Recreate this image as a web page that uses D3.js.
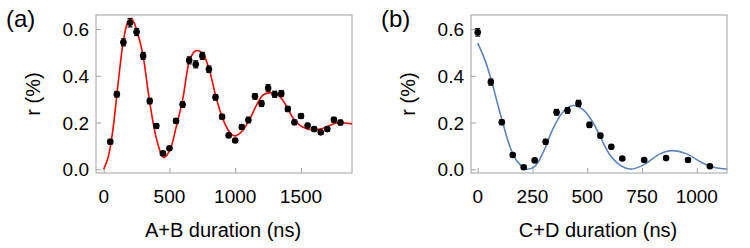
<!DOCTYPE html>
<html>
<head>
<meta charset="utf-8">
<script src="https://cdn.jsdelivr.net/npm/d3@7"></script>
<style>
  body { margin: 0; background: #fff; }
  text { font-family: "Liberation Sans", Arial, sans-serif; fill: #000; }
</style>
</head>
<body>
<div id="chart"></div>
<script>
// panel (a) data
var aTimes = [50, 100, 150, 200, 250, 300, 350, 400, 450, 500, 550, 600, 650, 700, 750, 800, 850, 900,
  950, 1000, 1050, 1100, 1150, 1200, 1250, 1300, 1350, 1400, 1450, 1500, 1550, 1600, 1650, 1700, 1750, 1800];
var aValues = [0.118, 0.321, 0.543, 0.627, 0.587, 0.485, 0.292, 0.185, 0.068, 0.090, 0.207, 0.277, 0.466,
  0.449, 0.485, 0.428, 0.308, 0.225, 0.145, 0.123, 0.181, 0.211, 0.312, 0.281, 0.348, 0.321, 0.324, 0.258,
  0.201, 0.228, 0.187, 0.172, 0.158, 0.172, 0.212, 0.200];
var aErrors = [0.01, 0.012, 0.015, 0.018, 0.015, 0.015, 0.012, 0.01, 0.008, 0.008, 0.01, 0.012, 0.015,
  0.015, 0.015, 0.014, 0.012, 0.01, 0.008, 0.008, 0.01, 0.012, 0.012, 0.012, 0.014, 0.013, 0.013, 0.011,
  0.01, 0.01, 0.009, 0.009, 0.008, 0.009, 0.01, 0.01];
var aFitTimes = [0, 35, 70, 110, 150, 180, 207, 230, 250, 296, 347, 397, 441, 458, 504, 549, 600, 651, 690,
  711, 735, 757, 803, 853, 904, 955, 998, 1049, 1107, 1163, 1213, 1264, 1300, 1340, 1391, 1441, 1505, 1593,
  1669, 1770, 1900];
var aFitValues = [0, 0.054, 0.17, 0.37, 0.55, 0.625, 0.645, 0.628, 0.597, 0.497, 0.297, 0.14, 0.061, 0.05,
  0.083, 0.176, 0.297, 0.461, 0.503, 0.508, 0.503, 0.493, 0.426, 0.311, 0.218, 0.161, 0.143, 0.161, 0.211,
  0.276, 0.318, 0.328, 0.323, 0.311, 0.268, 0.218, 0.183, 0.168, 0.176, 0.198, 0.193];

// panel (b) data
var bTimes = [0, 60, 110, 160, 210, 260, 310, 360, 410, 460, 510, 560, 610, 660, 760, 860, 960, 1060];
var bValues = [0.586, 0.373, 0.201, 0.061, 0.009, 0.038, 0.118, 0.244, 0.252, 0.282, 0.190, 0.144, 0.096,
  0.046, 0.040, 0.048, 0.040, 0.013];
var bErrors = [0.016, 0.013, 0.01, 0.007, 0.006, 0.007, 0.01, 0.012, 0.012, 0.013, 0.011, 0.009, 0.008,
  0.006, 0.006, 0.006, 0.006, 0.005];
var bFitTimes = [0, 33, 64, 94, 117, 147, 178, 216, 226, 262, 300, 345, 391, 434, 482, 528, 574, 604, 650,
  696, 756, 832, 886, 954, 1015, 1076, 1140];
var bFitValues = [0.54, 0.468, 0.375, 0.268, 0.19, 0.097, 0.037, 0.004, 0.0, 0.014, 0.075, 0.176, 0.247,
  0.273, 0.254, 0.197, 0.111, 0.061, 0.018, 0.001, 0.018, 0.066, 0.080, 0.066, 0.033, 0.009, 0.001];

var yTicks = [0, 0.2, 0.4, 0.6];
var aXTicks = [0, 500, 1000, 1500];
var bXTicks = [0, 250, 500, 750, 1000];

var width = 750, height = 248;

var svg = d3.select("#chart").append("svg")
  .attr("width", width)
  .attr("height", height);

function drawPanel(cfg) {
  var x = d3.scaleLinear().domain(cfg.xDomain).range([cfg.left, cfg.right]);
  var y = d3.scaleLinear().domain([-0.0158, 0.66]).range([173, 15]);
  var g = svg.append("g");

  g.append("clipPath").attr("id", cfg.id + "clip")
    .append("rect")
    .attr("x", cfg.left).attr("y", 15)
    .attr("width", cfg.right - cfg.left).attr("height", 158);

  // frame
  g.append("rect")
    .attr("x", cfg.left).attr("y", 15)
    .attr("width", cfg.right - cfg.left).attr("height", 158)
    .attr("fill", "none")
    .attr("stroke", "#a0a0a0")
    .attr("stroke-width", 1);

  // inward ticks
  var xAxis = d3.axisTop(x).tickValues(cfg.xTicks).tickSize(5).tickFormat("");
  g.append("g").attr("transform", "translate(0,173)").call(xAxis)
    .call(function(s) { s.select(".domain").remove(); s.selectAll("line").attr("stroke", "#a0a0a0"); });
  var yAxis = d3.axisRight(y).tickValues(yTicks).tickSize(5).tickFormat("");
  g.append("g").attr("transform", "translate(" + cfg.left + ",0)").call(yAxis)
    .call(function(s) { s.select(".domain").remove(); s.selectAll("line").attr("stroke", "#a0a0a0"); });

  // tick labels
  g.selectAll(".xl").data(cfg.xTicks).enter().append("text")
    .attr("x", function(d) { return x(d); })
    .attr("y", 203)
    .attr("text-anchor", "middle")
    .style("font-size", "19px")
    .text(function(d) { return d; });
  g.selectAll(".yl").data(yTicks).enter().append("text")
    .attr("x", cfg.left - 7)
    .attr("y", function(d) { return y(d) + 7; })
    .attr("text-anchor", "end")
    .style("font-size", "19px")
    .text(function(d) { return d.toFixed(1); });

  // titles
  g.append("text")
    .attr("x", (cfg.left + cfg.right) / 2 - 1)
    .attr("y", 237)
    .attr("text-anchor", "middle")
    .style("font-size", "20px")
    .text(cfg.xTitle);
  g.append("text")
    .attr("transform", "translate(" + (cfg.left - 56) + ",94) rotate(-90)")
    .attr("text-anchor", "middle")
    .style("font-size", "20px")
    .text("r (%)");
  g.append("text")
    .attr("x", cfg.left - 90)
    .attr("y", 27)
    .style("font-size", "24px")
    .text(cfg.label);

  // fit curve
  var fit = cfg.fitTimes.map(function(t, i) { return [t, cfg.fitValues[i]]; });
  var line = d3.line()
    .x(function(d) { return x(d[0]); })
    .y(function(d) { return y(d[1]); })
    .curve(d3.curveCatmullRom);
  g.append("path")
    .datum(fit)
    .attr("clip-path", "url(#" + cfg.id + "clip)")
    .attr("d", line)
    .attr("fill", "none")
    .attr("stroke", cfg.color)
    .attr("stroke-width", 1.6);

  // data points with error bars
  var pts = cfg.times.map(function(t, i) { return { t: t, v: cfg.values[i], e: cfg.errors[i] }; });
  var pt = g.append("g").selectAll("g").data(pts).enter().append("g");
  pt.append("line")
    .attr("x1", function(d) { return x(d.t); })
    .attr("x2", function(d) { return x(d.t); })
    .attr("y1", function(d) { return y(d.v - d.e); })
    .attr("y2", function(d) { return y(d.v + d.e); })
    .attr("stroke", "#000").attr("stroke-width", 1.2);
  [-1, 1].forEach(function(s) {
    pt.append("line")
      .attr("x1", function(d) { return x(d.t) - 2.5; })
      .attr("x2", function(d) { return x(d.t) + 2.5; })
      .attr("y1", function(d) { return y(d.v + s * d.e); })
      .attr("y2", function(d) { return y(d.v + s * d.e); })
      .attr("stroke", "#000").attr("stroke-width", 1.2);
  });
  pt.append("circle")
    .attr("cx", function(d) { return x(d.t); })
    .attr("cy", function(d) { return y(d.v); })
    .attr("r", 3.3)
    .attr("fill", "#000");
}

drawPanel({
  id: "a", left: 96, right: 352, xDomain: [-58.5, 1887.7], xTicks: aXTicks,
  times: aTimes, values: aValues, errors: aErrors,
  fitTimes: aFitTimes, fitValues: aFitValues, color: "#ff0000",
  xTitle: "A+B duration (ns)", label: "(a)"
});

drawPanel({
  id: "b", left: 471, right: 727, xDomain: [-30.6, 1138], xTicks: bXTicks,
  times: bTimes, values: bValues, errors: bErrors,
  fitTimes: bFitTimes, fitValues: bFitValues, color: "#5a84bf",
  xTitle: "C+D duration (ns)", label: "(b)"
});
</script>
</body>
</html>
